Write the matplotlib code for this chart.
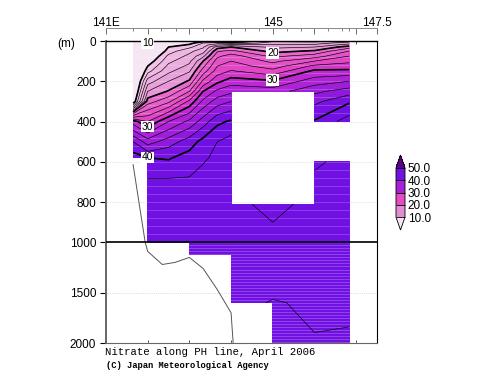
import numpy as np
import matplotlib
matplotlib.use("Agg")
import matplotlib.pyplot as plt
from matplotlib.cm import ScalarMappable
from matplotlib.colors import BoundaryNorm, LinearSegmentedColormap, ListedColormap

# station longitudes along the PH line
lons = [141.65, 142.0, 142.5, 143.0, 143.33, 143.67, 144.0, 145.0, 146.0, 146.83]
depths = [0, 10, 20, 30, 50, 75, 100, 125, 150, 200, 250, 300, 400, 500, 580,
          600, 700, 810, 900, 1000, 1120, 1200, 1500, 1600, 2000]
n = np.nan

# nitrate per station, one value for each depth
st1 = [2, 2, 2, 2.5, 3, 3, 3.5, 4, 4.5, 5, 6, 8, 31, 38, 41,
       n, n, n, n, n, n, n, n, n, n]
st2 = [3, 3.5, 4, 4.5, 5, 7, 8.5, 10, 11.3, 15, 18, 21, 28, 35, 40,
       41, 42.2, 43, 43.5, 43.8, n, n, n, n, n]
st3 = [5, 7, 8.5, 10, 11, 12.5, 13.5, 14.5, 15.5, 18, 20.2, 23.5, 32, 37, 39.8,
       40.2, 42.4, 42.9, 43.2, 43.4, n, n, n, n, n]
st4 = [7, 9, 10.5, 11.5, 13.5, 14.5, 15.5, 16.5, 17.8, 20.3, 24, 28.5, 34.5, 39, 40.8,
       41.1, 42.3, 43, 43.3, 43.5, 43.5, n, n, n, n]
st5 = [9, 12, 13, 13.7, 15, 17.5, 20, 21.5, 23, 26.5, 30, 32.5, 37, 40.7, 41.6,
       41.9, 42.8, 43.2, 43.4, 43.5, 43.5, n, n, n, n]
st6 = [8, 13, 16, 19, 21.7, 23.5, 25, 26, 27, 29.5, 32.5, 35, 39.5, 42, 42.6,
       42.7, 43.2, 43.4, 43.5, 43.6, 43.5, n, n, n, n]
st7 = [6, 12, 17, 20, 22.5, 25, 26, 27, 28.2, 31, 33.5, 36, 40.3, 42.8, 43,
       43.1, 43.3, 43.5, 43.6, 43.6, 43.5, 43.4, 43, 42.5, n]
st8 = [13.5, 15, 16.5, 17.5, 19.3, 21.5, 23.5, 25, 26.7, 30.3, 33, n, n, n, n,
       n, n, 44.5, 44, 43.7, 43.4, 43.2, 42.2, 41.9, 41]
st9 = [13, 15, 16.5, 18, 20.3, 23, 26, 28.5, 30.5, 33, 35.5, 37.5, 40.2, 41, 41.5,
       41.6, 42.5, 43.5, 43.4, 43.3, 43.2, 43, 42.4, 42.2, 41.93]
st10 = [15, 17, 19, 21, 24, 26, 27.5, 29, 30.5, 34, 37, 39.7, 43, n, n,
        42.8, 43, 43.3, 43.3, 43.2, 43.1, 43, 42.5, 42.3, 41.8]

# sea floor
bottom_lon = [141.65, 141.94, 142.0, 142.35, 142.65, 143.0, 143.33, 143.67, 144.0, 144.05]
bottom_depth = [614, 1000, 1090, 1220, 1200, 1150, 1260, 1470, 1700, 2000]

levels = np.arange(10, 52, 2)
bar_levels = [10, 20, 30, 40, 50]
bar_labels = ["10.0", "20.0", "30.0", "40.0", "50.0"]

nitrate = np.ma.masked_invalid(np.array([st1, st2, st3, st4, st5, st6, st7, st8, st9, st10]).T)


def depth_to_axis(d):
    return np.interp(d, [0, 1000, 2000], [0, 2, 3])


def axis_to_depth(a):
    return np.interp(a, [0, 2, 3], [0, 1000, 2000])


fig = plt.figure(figsize=(5, 3.87), dpi=100)
plt.rcParams['font.family'] = ['Liberation Sans', 'DejaVu Sans']
ax = fig.add_axes([106 / 500, 1 - 343 / 387, 271 / 500, 302 / 387])
ax.set_yscale('function', functions=(depth_to_axis, axis_to_depth))

shades = LinearSegmentedColormap.from_list(
    "nitrate", [(0.0, "#efc2e6"), (0.245, "#e490d4"), (0.25, "#e76ccc"),
                (0.45, "#e040c4"), (0.5, "#c42ad2"), (0.7, "#8c18dc"),
                (0.75, "#7010e2"), (1.0, "#7010e2")], N=len(levels) - 1)
shades.set_under("#f4e6f3")
shades.set_over("#5c0484")
ax.contourf(lons, depths, nitrate, levels=levels, cmap=shades, extend='both',
            corner_mask=False, zorder=1)
# pale banding the original shading shows across the fill
ax.hlines(np.arange(0, 1000, 40), 141, 147.5, color='white', alpha=0.22, lw=0.6, zorder=1.5)
ax.hlines(np.arange(1000, 2000, 30), 141, 147.5, color='white', alpha=0.3, lw=0.5, zorder=1.5)
ax.contour(lons, depths, nitrate, levels=levels, colors='k', linewidths=0.45,
           corner_mask=False, zorder=2)
ax.contour(lons, depths, nitrate, levels=[10, 20, 30, 40], colors='k', linewidths=1.2,
           corner_mask=False, zorder=2)
ax.plot(bottom_lon, bottom_depth, color='#555555', lw=0.7, zorder=2)
ax.axhline(1000, color='k', lw=1.2, zorder=5)

for x, y, s in [(142.0, 10, "10"), (145.0, 60, "20"), (145.0, 195, "30"),
                (142.0, 425, "30"), (142.0, 578, "40")]:
    ax.text(x, y, s, fontsize=7.5, ha='center', va='center', zorder=6,
            bbox=dict(facecolor='white', edgecolor='none', pad=0.6))

ax.set_xlim(141, 147.5)
ax.set_ylim(2000, 0)
ax.set_yticks([0, 200, 400, 600, 800, 1000, 1500, 2000])
ax.set_yticklabels(["0", "200", "400", "600", "800", "1000", "1500", "2000"])
ax.set_xticks(range(141, 148))
ax.set_xticklabels([])
ax.tick_params(axis='y', length=4, width=0.8, labelsize=8.5, pad=3)
ax.tick_params(axis='x', direction='in', length=2, width=0.5, top=True, bottom=True)
ax.yaxis.grid(True, linestyle=':', color='#c4c4c4', lw=0.5, zorder=0)
ax.set_axisbelow(True)
ax.spines['left'].set_color('#666666')
ax.spines['left'].set_linewidth(1.4)
ax.spines['bottom'].set_color('#666666')
ax.spines['top'].set_linewidth(1.0)
ax.spines['right'].set_linewidth(0.8)

top = ax.secondary_xaxis(1 + 13 / 302)
top.set_xticks([141, 142, 143, 144, 145, 146, 147, 147.5])
top.set_xticklabels(["141E", "", "", "", "145", "", "", "147.5"])
top.set_xticks([141.65, 142.33, 142.67, 143.33, 143.67, 144.33, 144.67, 145.33,
                145.67, 146.33, 146.67, 146.83], minor=True)
top.tick_params(axis='x', which='major', direction='in', length=4, width=0.6,
                labelsize=8.5, pad=-1, color='#555555')
top.tick_params(axis='x', which='minor', direction='in', length=2.5, width=0.5,
                color='#555555')
top.spines['top'].set_color('#888888')
top.spines['top'].set_linewidth(0.7)

fig.text(66 / 500, 1 - 44 / 387, "(m)", fontsize=8.5, ha='center', va='center')
fig.text(105 / 500, 1 - 352 / 387, "Nitrate along PH line, April 2006",
         family=['Liberation Mono', 'DejaVu Sans Mono'], fontsize=7.7, va='center')
fig.text(106 / 500, 1 - 366 / 387, "(C) Japan Meteorological Agency",
         family=['Liberation Mono', 'DejaVu Sans Mono'], fontsize=6.3,
         weight='bold', va='center')

# colour key, one block per ten units
cax = fig.add_axes([396 / 500, 1 - 230 / 387, 9 / 500, 75 / 387])
bar_cmap = ListedColormap(["#e08ed0", "#e44cc4", "#a820d8", "#7010e2"])
bar_cmap.set_under("#f4e6f3")
bar_cmap.set_over("#5c0484")
sm = ScalarMappable(norm=BoundaryNorm(bar_levels, bar_cmap.N), cmap=bar_cmap)
cb = fig.colorbar(sm, cax=cax, extend='both', extendfrac=0.26, spacing='uniform',
                  drawedges=True)
cb.set_ticks(bar_levels)
cb.set_ticklabels(bar_labels)
cb.ax.tick_params(length=0, labelsize=8.5, pad=2)
cb.outline.set_linewidth(0.6)
cb.dividers.set_color('k')
cb.dividers.set_linewidth(0.6)

fig.savefig("out.png", dpi=100)
